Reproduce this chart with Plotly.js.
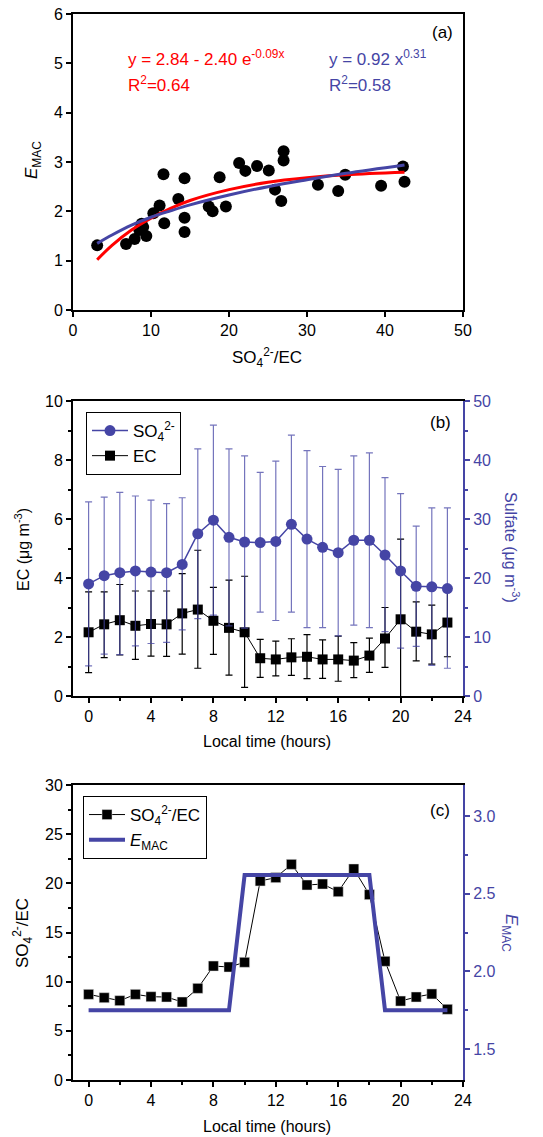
<!DOCTYPE html>
<html>
<head>
<meta charset="utf-8">
<script src="https://cdn.plot.ly/plotly-3.0.1.min.js"></script>
<style>html,body{margin:0;padding:0;background:#fff}</style>
</head>
<body>
<div id="chart" style="width:543px;height:1137px"></div>
<script>
// ---------- Panel (a): E_MAC vs SO4/EC ----------
const ratioA = [3.1, 6.8, 7.9, 8.5, 8.8, 9.0, 9.4, 10.3, 11.1, 11.6, 11.7, 13.5, 14.3, 14.3, 14.3, 17.4, 17.9, 18.8, 19.6, 21.3, 22.1, 23.6, 25.1, 25.9, 26.7, 27.0, 27.0, 31.4, 34.0, 34.9, 39.5, 42.3, 42.5];
const emacA  = [1.31, 1.34, 1.44, 1.62, 1.75, 1.68, 1.50, 1.96, 2.12, 2.75, 1.76, 2.25, 2.67, 1.87, 1.58, 2.10, 2.00, 2.69, 2.10, 2.98, 2.82, 2.92, 2.83, 2.44, 2.21, 3.22, 3.03, 2.54, 2.41, 2.74, 2.52, 2.91, 2.60];
// fitted curves
const fitX    = [3.1, 5, 7.5, 10, 12.5, 15, 20, 25, 30, 35, 42.5];
const fitExpY = [1.02, 1.31, 1.62, 1.86, 2.06, 2.22, 2.44, 2.59, 2.68, 2.74, 2.79];
const fitPowY = [1.35, 1.52, 1.72, 1.88, 2.01, 2.13, 2.33, 2.50, 2.64, 2.77, 2.94];

// ---------- Panel (b): diurnal EC and sulfate ----------
const hours = [0,1,2,3,4,5,6,7,8,9,10,11,12,13,14,15,16,17,18,19,20,21,22,23];
const ecVal    = [2.16,2.43,2.57,2.38,2.44,2.43,2.80,2.93,2.55,2.31,2.16,1.28,1.24,1.31,1.33,1.24,1.24,1.20,1.37,1.95,2.60,2.18,2.09,2.49];
const ecErrUp  = [1.37,1.10,1.21,1.18,1.12,1.13,1.35,2.01,1.13,1.62,1.90,0.64,0.62,0.63,0.75,0.66,0.79,0.61,0.59,1.05,2.72,1.01,0.99,1.16];
const ecErrDn  = [1.37,1.13,1.18,1.14,1.09,1.09,1.38,1.99,1.14,1.60,1.87,0.65,0.56,0.61,0.74,0.64,0.74,0.58,0.57,0.98,2.72,0.99,1.01,1.16];
const so4Val   = [19.0,20.4,20.9,21.2,21.0,20.9,22.3,27.5,29.8,26.9,26.1,26.0,26.2,29.1,26.6,25.2,24.3,26.4,26.4,23.9,21.2,18.6,18.5,18.2];
const so4ErrUp = [13.9,13.3,13.6,12.7,12.2,11.7,11.3,14.4,16.1,15.0,14.6,11.9,13.6,15.1,15.0,13.7,14.1,14.3,14.8,13.1,13.1,10.2,13.4,13.7];
const so4ErrDn = [13.9,13.3,13.9,12.7,12.1,11.8,11.1,14.4,16.1,15.0,14.6,11.8,13.4,14.9,15.0,13.6,14.1,14.4,14.8,13.0,13.1,10.2,13.3,13.5];

// ---------- Panel (c): SO4/EC ratio and E_MAC ----------
const ratioC = [8.71,8.37,8.07,8.71,8.47,8.44,7.93,9.32,11.59,11.49,11.97,20.24,20.58,21.93,19.83,19.93,19.15,21.46,18.85,12.07,8.03,8.44,8.75,7.19];
const emacC  = [1.75,1.75,1.75,1.75,1.75,1.75,1.75,1.75,1.75,1.75,2.62,2.62,2.62,2.62,2.62,2.62,2.62,2.62,2.62,1.75,1.75,1.75,1.75,1.75];

const BLUE = '#4545a5';
const FONT = 'Liberation Sans, Arial, sans-serif';

const data = [
  {x: ratioA, y: emacA, type:'scatter', mode:'markers', xaxis:'x', yaxis:'y', showlegend:false,
   marker:{color:'#000', size:12}},
  {x: fitX, y: fitExpY, type:'scatter', mode:'lines', xaxis:'x', yaxis:'y', showlegend:false,
   line:{color:'#ff0000', width:3, shape:'spline'}},
  {x: fitX, y: fitPowY, type:'scatter', mode:'lines', xaxis:'x', yaxis:'y', showlegend:false,
   line:{color:BLUE, width:3, shape:'spline'}},

  {x: hours, y: ecVal, type:'scatter', mode:'lines+markers', name:'EC', xaxis:'x2', yaxis:'y2', legend:'legend',
   line:{color:'#000', width:1}, marker:{symbol:'square', color:'#000', size:10},
   error_y:{type:'data', symmetric:false, array:ecErrUp, arrayminus:ecErrDn, color:'#000', thickness:1.2, width:3.5}},
  {x: hours, y: so4Val, type:'scatter', mode:'lines+markers', name:'SO<sub>4</sub><sup>2-</sup>', xaxis:'x2', yaxis:'y3', legend:'legend',
   line:{color:BLUE, width:1.5}, marker:{symbol:'circle', color:BLUE, size:11},
   error_y:{type:'data', symmetric:false, array:so4ErrUp, arrayminus:so4ErrDn, color:'rgba(69,69,165,0.75)', thickness:1.2, width:3.5}},

  {x: hours, y: ratioC, type:'scatter', mode:'lines+markers', name:'SO<sub>4</sub><sup>2-</sup>/EC', xaxis:'x3', yaxis:'y4', legend:'legend2',
   line:{color:'#000', width:1}, marker:{symbol:'square', color:'#000', size:10, line:{color:'#ddd', width:0.5}}},
  {x: hours, y: emacC, type:'scatter', mode:'lines', name:'<i>E</i><sub>MAC</sub>', xaxis:'x3', yaxis:'y5', legend:'legend2',
   line:{color:BLUE, width:4}}
];

const W = 543, H = 1137;
const px = v => v / W;
const py = v => 1 - v / H;
const xDom = [px(73), px(463)];

const axBase = {
  showgrid:false, zeroline:false, showline:true, linecolor:'#000', linewidth:2,
  ticks:'outside', ticklen:5, tickwidth:2, tickcolor:'#000',
  tickfont:{family:FONT, size:16, color:'#000'}
};
const minorOf = (d, c) => ({dtick:d, ticks:'outside', ticklen:3, tickwidth:2, tickcolor:c||'#000', showgrid:false});

const layout = {
  width:W, height:H, margin:{l:0,r:0,t:0,b:0},
  paper_bgcolor:'#fff', plot_bgcolor:'#fff',
  font:{family:FONT, color:'#000'},
  xaxis: Object.assign({}, axBase, {domain:xDom, anchor:'y', range:[0,50], dtick:10, mirror:true}),
  yaxis: Object.assign({}, axBase, {domain:[py(310), py(14)], anchor:'x', range:[0,6], dtick:1, mirror:true}),

  xaxis2: Object.assign({}, axBase, {domain:xDom, anchor:'y2', range:[-1,24], tick0:0, dtick:4, mirror:true, minor:minorOf(2)}),
  yaxis2: Object.assign({}, axBase, {domain:[py(696), py(401)], anchor:'x2', range:[0,10], dtick:2, minor:minorOf(1)}),
  yaxis3: Object.assign({}, axBase, {overlaying:'y2', anchor:'x2', side:'right', range:[0,50], dtick:10,
           linecolor:BLUE, tickcolor:BLUE, tickfont:{family:FONT, size:16, color:BLUE}, minor:minorOf(5, BLUE)}),

  xaxis3: Object.assign({}, axBase, {domain:xDom, anchor:'y4', range:[-1,24], tick0:0, dtick:4, mirror:true, minor:minorOf(2)}),
  yaxis4: Object.assign({}, axBase, {domain:[py(1080), py(785)], anchor:'x3', range:[0,30], dtick:5, minor:minorOf(2.5)}),
  yaxis5: Object.assign({}, axBase, {overlaying:'y4', anchor:'x3', side:'right', range:[1.3,3.2], tick0:0, dtick:0.5, tickformat:'.1f',
           linecolor:BLUE, tickcolor:BLUE, tickfont:{family:FONT, size:16, color:BLUE}, minor:minorOf(0.25, BLUE)}),

  legend:{x:px(86), y:py(412), xanchor:'left', yanchor:'top', bgcolor:'#fff', bordercolor:'#000', borderwidth:1,
          font:{family:FONT, size:17, color:'#000'}, tracegroupgap:0, traceorder:'reversed', itemwidth:36},
  legend2:{x:px(83), y:py(796), xanchor:'left', yanchor:'top', bgcolor:'#fff', bordercolor:'#000', borderwidth:1,
          font:{family:FONT, size:17, color:'#000'}, tracegroupgap:0, itemwidth:36},

  annotations:[
    // panel labels
    {text:'(a)', xref:'paper', yref:'paper', x:px(455), y:py(33), xanchor:'right', yanchor:'middle', showarrow:false, font:{size:17, family:FONT}},
    {text:'(b)', xref:'paper', yref:'paper', x:px(453), y:py(422), xanchor:'right', yanchor:'middle', showarrow:false, font:{size:17, family:FONT}},
    {text:'(c)', xref:'paper', yref:'paper', x:px(452), y:py(810), xanchor:'right', yanchor:'middle', showarrow:false, font:{size:17, family:FONT}},
    // fit equations
    {text:'y = 2.84 - 2.40 e<sup>-0.09x</sup>', xref:'paper', yref:'paper', x:px(126), y:py(58), xanchor:'left', yanchor:'middle', showarrow:false, font:{size:17, family:FONT, color:'#ff0000'}},
    {text:'R<sup>2</sup>=0.64', xref:'paper', yref:'paper', x:px(126), y:py(84), xanchor:'left', yanchor:'middle', showarrow:false, font:{size:17, family:FONT, color:'#ff0000'}},
    {text:'y = 0.92 x<sup>0.31</sup>', xref:'paper', yref:'paper', x:px(327), y:py(58), xanchor:'left', yanchor:'middle', showarrow:false, font:{size:17, family:FONT, color:BLUE}},
    {text:'R<sup>2</sup>=0.58', xref:'paper', yref:'paper', x:px(327), y:py(84), xanchor:'left', yanchor:'middle', showarrow:false, font:{size:17, family:FONT, color:BLUE}},
    // axis titles panel a
    {text:'SO<sub>4</sub><sup>2-</sup>/EC', xref:'paper', yref:'paper', x:px(267), y:py(357), xanchor:'center', yanchor:'middle', showarrow:false, font:{size:17, family:FONT}},
    {text:'<i>E</i><sub>MAC</sub>', xref:'paper', yref:'paper', x:px(33), y:py(160), xanchor:'center', yanchor:'middle', textangle:-90, showarrow:false, font:{size:17, family:FONT}},
    // axis titles panel b
    {text:'Local time (hours)', xref:'paper', yref:'paper', x:px(267), y:py(741), xanchor:'center', yanchor:'middle', showarrow:false, font:{size:16, family:FONT}},
    {text:'EC (\u03bcg m<sup>-3</sup>)', xref:'paper', yref:'paper', x:px(22), y:py(550), xanchor:'center', yanchor:'middle', textangle:-90, showarrow:false, font:{size:16, family:FONT}},
    {text:'Sulfate (\u03bcg m<sup>-3</sup>)', xref:'paper', yref:'paper', x:px(512), y:py(547), xanchor:'center', yanchor:'middle', textangle:90, showarrow:false, font:{size:16, family:FONT, color:BLUE}},
    // axis titles panel c
    {text:'Local time (hours)', xref:'paper', yref:'paper', x:px(267), y:py(1126), xanchor:'center', yanchor:'middle', showarrow:false, font:{size:16, family:FONT}},
    {text:'SO<sub>4</sub><sup>2-</sup>/EC', xref:'paper', yref:'paper', x:px(22), y:py(933), xanchor:'center', yanchor:'middle', textangle:-90, showarrow:false, font:{size:17, family:FONT}},
    {text:'<i>E</i><sub>MAC</sub>', xref:'paper', yref:'paper', x:px(510), y:py(933), xanchor:'center', yanchor:'middle', textangle:90, showarrow:false, font:{size:17, family:FONT, color:BLUE}}
  ]
};

Plotly.newPlot('chart', data, layout, {displayModeBar:false});
</script>
</body>
</html>
